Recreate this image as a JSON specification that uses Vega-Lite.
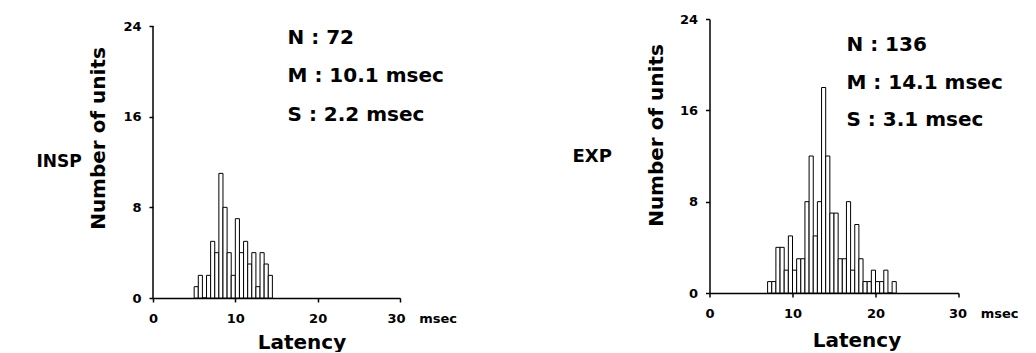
{
  "$schema": "https://vega.github.io/schema/vega-lite/v6.json",
  "background": "white",
  "padding": {"left": 36, "top": 13, "right": 0, "bottom": 0},
  "spacing": 309.5,
  "bounds": "flush",
  "config": {
    "view": {"stroke": null},
    "axis": {
      "labelFont": "DejaVu Sans", "labelFontWeight": "bold", "labelFontSize": 13, "labelColor": "black",
      "titleFont": "DejaVu Sans", "titleFontWeight": "bold", "titleFontSize": 20, "titleColor": "black",
      "domainColor": "black", "domainWidth": 1.5, "tickColor": "black", "tickWidth": 1.5, "tickSize": 4,
      "grid": false, "labelOverlap": false, "labelFlush": false, "labelBound": false
    },
    "text": {"font": "DejaVu Sans", "color": "black"}
  },
  "datasets": {
    "insp": [
      {"start": 5.0, "end": 5.5, "count": 1}, {"start": 5.5, "end": 6.0, "count": 2},
      {"start": 6.0, "end": 6.5, "count": 0}, {"start": 6.5, "end": 7.0, "count": 2},
      {"start": 7.0, "end": 7.5, "count": 5}, {"start": 7.5, "end": 8.0, "count": 4},
      {"start": 8.0, "end": 8.5, "count": 11}, {"start": 8.5, "end": 9.0, "count": 8},
      {"start": 9.0, "end": 9.5, "count": 4}, {"start": 9.5, "end": 10.0, "count": 2},
      {"start": 10.0, "end": 10.5, "count": 7}, {"start": 10.5, "end": 11.0, "count": 4},
      {"start": 11.0, "end": 11.5, "count": 5}, {"start": 11.5, "end": 12.0, "count": 3},
      {"start": 12.0, "end": 12.5, "count": 4}, {"start": 12.5, "end": 13.0, "count": 1},
      {"start": 13.0, "end": 13.5, "count": 4}, {"start": 13.5, "end": 14.0, "count": 3},
      {"start": 14.0, "end": 14.5, "count": 2}
    ],
    "exp": [
      {"start": 7.0, "end": 7.5, "count": 1}, {"start": 7.5, "end": 8.0, "count": 1},
      {"start": 8.0, "end": 8.5, "count": 4}, {"start": 8.5, "end": 9.0, "count": 4},
      {"start": 9.0, "end": 9.5, "count": 2}, {"start": 9.5, "end": 10.0, "count": 5},
      {"start": 10.0, "end": 10.5, "count": 2}, {"start": 10.5, "end": 11.0, "count": 3},
      {"start": 11.0, "end": 11.5, "count": 3}, {"start": 11.5, "end": 12.0, "count": 8},
      {"start": 12.0, "end": 12.5, "count": 12}, {"start": 12.5, "end": 13.0, "count": 5},
      {"start": 13.0, "end": 13.5, "count": 8}, {"start": 13.5, "end": 14.0, "count": 18},
      {"start": 14.0, "end": 14.5, "count": 12}, {"start": 14.5, "end": 15.0, "count": 7},
      {"start": 15.0, "end": 15.5, "count": 7}, {"start": 15.5, "end": 16.0, "count": 3},
      {"start": 16.0, "end": 16.5, "count": 3}, {"start": 16.5, "end": 17.0, "count": 8},
      {"start": 17.0, "end": 17.5, "count": 2}, {"start": 17.5, "end": 18.0, "count": 6},
      {"start": 18.0, "end": 18.5, "count": 3}, {"start": 18.5, "end": 19.0, "count": 1},
      {"start": 19.0, "end": 19.5, "count": 1}, {"start": 19.5, "end": 20.0, "count": 2},
      {"start": 20.0, "end": 20.5, "count": 1}, {"start": 20.5, "end": 21.0, "count": 1},
      {"start": 21.0, "end": 21.5, "count": 2}, {"start": 21.5, "end": 22.0, "count": 0},
      {"start": 22.0, "end": 22.5, "count": 1}
    ],
    "inspStats": [
      {"label": "N : 72", "x": 16.34, "y": 22.94},
      {"label": "M : 10.1 msec", "x": 16.34, "y": 19.55},
      {"label": "S : 2.2 msec", "x": 16.34, "y": 16.11}
    ],
    "expStats": [
      {"label": "N : 136", "x": 16.5, "y": 21.75},
      {"label": "M : 14.1 msec", "x": 16.5, "y": 18.4},
      {"label": "S : 3.1 msec", "x": 16.5, "y": 15.14}
    ],
    "inspName": [{"label": "INSP", "x": -14.15, "y": 12.0}],
    "expName": [{"label": "EXP", "x": -16.5, "y": 11.94}],
    "yline": [{"x": 0, "lo": 0, "hi": 24}]
  },
  "hconcat": [
    {
      "width": 247,
      "height": 279,
      "layer": [
        {
          "data": {"name": "insp"},
          "mark": {"type": "bar", "fill": "white", "stroke": "black", "strokeWidth": 1},
          "encoding": {
            "x": {
              "field": "start", "type": "quantitative",
              "scale": {"domain": [0, 30], "nice": false},
              "axis": {
                "values": [0, 10, 20, 30], "labelAngle": 0, "labelPadding": 10,
                "labelExpr": "datum.value === 30 ? '30\u00a0\u00a0\u00a0msec' : datum.label",
                "labelAlign": {"condition": {"test": "datum.value === 30", "value": "left"}, "value": "center"},
                "labelOffset": {"condition": {"test": "datum.value === 30", "value": -13}, "value": 0},
                "title": "Latency", "titleX": 148.5, "titleY": 34
              }
            },
            "x2": {"field": "end"},
            "y": {
              "field": "count", "type": "quantitative",
              "scale": {"domain": [0, 24.62], "nice": false},
              "axis": {
                "values": [0, 8, 16, 24], "domain": false, "labelPadding": 8,
                "title": "Number of units", "titleX": -45, "titleY": 119
              }
            },
            "y2": {"datum": 0}
          }
        },
        {
          "data": {"name": "yline"},
          "mark": {"type": "rule", "color": "black", "strokeWidth": 1.5},
          "encoding": {
            "x": {"field": "x", "type": "quantitative"},
            "y": {"field": "lo", "type": "quantitative"},
            "y2": {"field": "hi"}
          }
        },
        {
          "data": {"name": "inspStats"},
          "mark": {"type": "text", "align": "left", "baseline": "middle", "fontSize": 20, "fontWeight": "bold"},
          "encoding": {
            "x": {"field": "x", "type": "quantitative"},
            "y": {"field": "y", "type": "quantitative"},
            "text": {"field": "label"}
          }
        },
        {
          "data": {"name": "inspName"},
          "mark": {"type": "text", "align": "left", "baseline": "middle", "fontSize": 17, "fontWeight": "bold", "clip": false},
          "encoding": {
            "x": {"field": "x", "type": "quantitative"},
            "y": {"field": "y", "type": "quantitative"},
            "text": {"field": "label"}
          }
        }
      ]
    },
    {
      "width": 249,
      "height": 274,
      "layer": [
        {
          "data": {"name": "exp"},
          "mark": {"type": "bar", "fill": "white", "stroke": "black", "strokeWidth": 1},
          "encoding": {
            "x": {
              "field": "start", "type": "quantitative",
              "scale": {"domain": [0, 30], "nice": false},
              "axis": {
                "values": [0, 10, 20, 30], "labelAngle": 0, "labelPadding": 10,
                "labelExpr": "datum.value === 30 ? '30\u00a0\u00a0\u00a0msec' : datum.label",
                "labelAlign": {"condition": {"test": "datum.value === 30", "value": "left"}, "value": "center"},
                "labelOffset": {"condition": {"test": "datum.value === 30", "value": -10}, "value": 0},
                "title": "Latency", "titleX": 147, "titleY": 37
              }
            },
            "x2": {"field": "end"},
            "y": {
              "field": "count", "type": "quantitative",
              "scale": {"domain": [0, 24], "nice": false},
              "axis": {
                "values": [0, 8, 16, 24], "labelPadding": 8,
                "title": "Number of units", "titleX": -43, "titleY": 116
              }
            },
            "y2": {"datum": 0}
          }
        },
        {
          "data": {"name": "expStats"},
          "mark": {"type": "text", "align": "left", "baseline": "middle", "fontSize": 20, "fontWeight": "bold"},
          "encoding": {
            "x": {"field": "x", "type": "quantitative"},
            "y": {"field": "y", "type": "quantitative"},
            "text": {"field": "label"}
          }
        },
        {
          "data": {"name": "expName"},
          "mark": {"type": "text", "align": "left", "baseline": "middle", "fontSize": 18, "fontWeight": "bold", "clip": false},
          "encoding": {
            "x": {"field": "x", "type": "quantitative"},
            "y": {"field": "y", "type": "quantitative"},
            "text": {"field": "label"}
          }
        }
      ]
    }
  ]
}
